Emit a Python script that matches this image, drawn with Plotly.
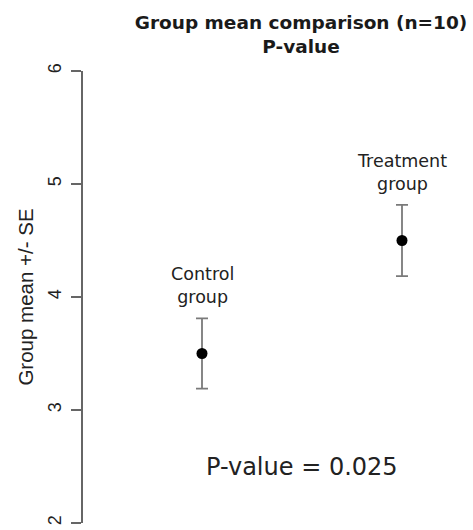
import plotly.graph_objects as go

groups = ["Control<br>group", "Treatment<br>group"]
group_x = [1, 2]
means = [3.5, 4.5]
se = [0.31, 0.315]
y_ticks = [2, 3, 4, 5, 6]
p_label = "P-value = 0.025"
title_text = "Group mean comparison (n=10)<br>P-value"
y_title = "Group mean +/- SE"

fig = go.Figure()
fig.add_trace(go.Scatter(
    x=group_x, y=means, mode="markers",
    marker=dict(color="black", size=11),
    error_y=dict(type="data", array=se, visible=True,
                 color="#7a7a7a", thickness=1.8, width=6),
    showlegend=False, hoverinfo="skip",
))

for gx, m, s, g in zip(group_x, means, se, groups):
    fig.add_annotation(x=gx, y=m + 0.6, text=g, showarrow=False,
                       xanchor="center", yanchor="middle",
                       font=dict(family="DejaVu Sans", size=17.5, color="#222"))

fig.add_annotation(x=sum(group_x) / 2, y=2.5, text=p_label, showarrow=False,
                   xanchor="center", yanchor="middle",
                   font=dict(family="DejaVu Sans", size=24, color="#222"))

fig.update_layout(
    width=473, height=530,
    margin=dict(l=83, r=0, t=71, b=7),
    paper_bgcolor="white", plot_bgcolor="white",
    title=dict(text=title_text, x=301 / 473, xanchor="center",
               y=1 - 29 / 530, yanchor="middle",
               font=dict(family="DejaVu Sans", size=18.5, color="#1a1a1a", weight="bold")),
    xaxis=dict(range=[0.405, 2.355], visible=False, showgrid=False, zeroline=False),
    yaxis=dict(range=[2, 6], tickvals=y_ticks, ticktext=[str(t) for t in y_ticks],
               showline=True, linecolor="#666", linewidth=1.5,
               ticks="outside", ticklen=10, tickwidth=1.5, tickcolor="#666",
               tickangle=-90, ticklabelstandoff=3,
               tickfont=dict(family="Liberation Sans", size=18, color="#222"),
               showgrid=False, zeroline=False,
               title=dict(text=y_title, standoff=6,
                          font=dict(family="Liberation Sans", size=20.5, color="#222"))),
)

fig.write_html("out.html")
